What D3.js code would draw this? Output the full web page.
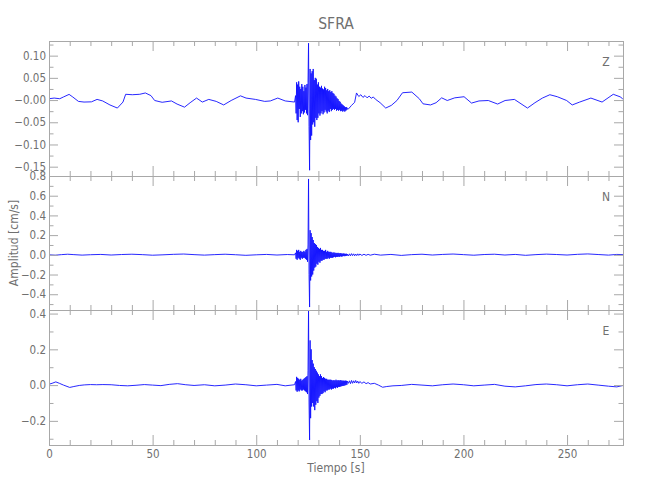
<!DOCTYPE html>
<html>
<head>
<meta charset="utf-8">
<script src="https://cdn.jsdelivr.net/npm/d3@7"></script>
<style>
  html, body { margin: 0; padding: 0; background: #ffffff; }
  svg { display: block; }
  text { font-family: "DejaVu Sans Condensed", "Liberation Sans Narrow", sans-serif; fill: #707070; }
</style>
</head>
<body>
<svg id="chart" width="650" height="500"></svg>
<script>
// ---------------- DATA ----------------
const title = "SFRA";
const xLabel = "Tiempo [s]";
const yLabel = "Amplitud [cm/s]";
const components = ["Z", "N", "E"];

const timeDomain = [0, 277];
const xTickValues = [0, 50, 100, 150, 200, 250];
const xTickLabels = ["0", "50", "100", "150", "200", "250"];

// y ranges per component
const zRange = [-0.171, 0.133];
const nRange = [-0.56, 0.80];
const eRange = [-0.335, 0.42];

const zTickValues = [-0.15, -0.10, -0.05, 0.0, 0.05, 0.10];
const zTickLabels = ["\u22120.15", "\u22120.10", "\u22120.05", "\u22120.00", "0.05", "0.10"];
const nTickValues = [-0.4, -0.2, 0.0, 0.2, 0.4, 0.6, 0.8];
const nTickLabels = ["\u22120.4", "\u22120.2", "0.0", "0.2", "0.4", "0.6", "0.8"];
const eTickValues = [-0.2, 0.0, 0.2, 0.4];
const eTickLabels = ["\u22120.2", "0.0", "0.2", "0.4"];
const zMinorStep = 0.025, nMinorStep = 0.1, eMinorStep = 0.1;

// burst sampling (strong motion window)
const burstStart = 119.0;
const burstStep = 0.25;

// Z component: quiet part (time, value)
const zQuietTimes = [0, 2.5, 5.2, 6.9, 9.7, 11.5, 14.2, 16.9, 20.5, 23.2, 25.9, 29.4, 33.0, 35.7, 37.0, 40.2, 43.8, 46.5, 49.2, 51.0, 54.6, 59.1, 61.8, 65.4, 68.1, 71.2, 74.0, 77.1, 80.7, 84.3, 87.9, 92.4, 95.1, 99.6, 104.1, 106.8, 110.4, 114.0, 118.5,
  144.5, 146.0, 147.5, 148.4, 149.5, 150.5, 151.5, 152.5, 153.5, 154.5, 155.5, 156.5, 157.5, 159.8, 162.5, 165.2, 167.9, 170.6, 175.1, 178.7, 180.5, 184.1, 186.8, 189.5, 192.2, 195.8, 200.3, 203.9, 207.5, 212.0, 216.5, 220.1, 224.6, 230.9, 234.5, 238.1, 241.7, 245.3, 249.8, 252.5, 256.1, 261.5, 266.9, 272.3, 275.9, 277.0];
const zQuietValues = [0.003, 0.0045, 0.003, 0.0068, 0.0128, 0.0068, -0.003, -0.0045, -0.004, 0.0015, -0.002, -0.011, -0.018, -0.0045, 0.013, 0.012, 0.013, 0.016, 0.010, -0.001, -0.005, -0.002, -0.009, -0.016, -0.006, 0.0045, -0.0045, 0.0015, -0.003, -0.011, -0.001, 0.0095, 0.0045, 0.0015, -0.003, -0.002, 0.0045, -0.002, -0.0045,
  -0.020, -0.012, -0.005, 0.016, 0.008, 0.012, 0.006, 0.010, 0.005, 0.009, 0.004, 0.007, 0.002, -0.006, -0.018, -0.012, -0.001, 0.0165, 0.018, 0.003, -0.0085, -0.011, -0.006, 0.005, -0.001, 0.005, 0.0075, -0.0068, -0.002, -0.001, -0.009, -0.001, 0.0015, -0.018, -0.006, 0.0045, 0.012, 0.0075, -0.001, -0.011, -0.0045, 0.0045, -0.0045, 0.013, 0.0068, 0.0015];
const zBurst = [0.010, -0.030, 0.040, -0.045, 0.035, -0.050, 0.042, -0.020, 0.030, -0.038,
  0.025, -0.030, 0.036, -0.025, 0.030, -0.032, 0.020, -0.028, 0.034, -0.022,
  0.028, -0.030, 0.036, -0.034, 0.040, 0.128, -0.060, -0.158, 0.070, -0.090,
  0.060, -0.080, 0.065, -0.055, 0.070, -0.050, 0.045, -0.060, 0.050, -0.040,
  0.048, -0.045, 0.035, -0.040, 0.040, -0.030, 0.030, -0.035, 0.028, -0.030,
  0.032, -0.025, 0.026, -0.032, 0.024, -0.028, 0.030, -0.022, 0.027, -0.026,
  0.022, -0.030, 0.025, -0.024, 0.020, -0.027, 0.022, -0.020, 0.018, -0.025,
  0.020, -0.022, 0.016, -0.020, 0.014, -0.022, 0.010, -0.020, 0.008, -0.024,
  0.004, -0.022, 0.002, -0.024, -0.002, -0.022, -0.004, -0.025, -0.008, -0.024,
  -0.010, -0.026, -0.012, -0.024, -0.014, -0.026, -0.016, -0.024, -0.016, -0.022,
  -0.018];

// N component
const nQuietTimes = [0, 3, 6, 9, 12, 16, 20, 25, 30, 35, 40, 45, 50, 55, 60, 65, 70, 75, 80, 85, 90, 95, 100, 105, 110, 115, 118.5,
  144.5, 145, 145.5, 146, 146.5, 147, 147.5, 148, 148.5, 149, 149.5, 150, 151, 152, 153, 154, 155, 157, 160, 165, 170, 175, 180, 185, 190, 195, 200, 205, 210, 215, 220, 225, 230, 235, 240, 245, 250, 255, 260, 265, 270, 274, 277];
const nQuietValues = [0.000, -0.004, 0.002, 0.006, 0.002, -0.003, 0.001, 0.004, -0.002, 0.003, 0.006, 0.002, -0.004, 0.000, 0.005, 0.008, 0.002, -0.003, 0.002, 0.006, 0.001, -0.005, 0.000, 0.004, -0.002, 0.003, 0.000,
  -0.012, 0.010, -0.010, 0.012, -0.008, 0.010, -0.010, 0.008, -0.008, 0.010, -0.006, 0.008, -0.006, 0.006, -0.005, 0.005, -0.004, 0.006, -0.003, 0.004, -0.006, 0.002, 0.006, -0.002, 0.004, 0.008, 0.002, -0.004, 0.003, 0.006, -0.002, 0.004, -0.005, 0.002, 0.007, 0.003, -0.002, 0.005, 0.009, 0.003, -0.003, 0.004, 0.002];
const nBurst = [0.02, -0.04, 0.05, -0.05, 0.04, -0.03, 0.05, -0.04, 0.03, -0.05,
  0.04, -0.03, 0.03, -0.04, 0.03, -0.03, 0.04, -0.03, 0.03, -0.04,
  0.05, -0.05, 0.06, -0.07, 0.10, 0.77, -0.20, -0.53, 0.25, -0.26,
  0.22, -0.22, 0.18, -0.20, 0.15, -0.16, 0.12, -0.13, 0.11, -0.12,
  0.10, -0.09, 0.08, -0.10, 0.07, -0.07, 0.06, -0.08, 0.07, -0.06,
  0.05, -0.06, 0.05, -0.05, 0.04, -0.05, 0.04, -0.04, 0.05, -0.04,
  0.03, -0.04, 0.04, -0.03, 0.03, -0.04, 0.03, -0.03, 0.03, -0.03,
  0.025, -0.03, 0.02, -0.025, 0.025, -0.02, 0.02, -0.025, 0.02, -0.02,
  0.018, -0.02, 0.02, -0.018, 0.015, -0.02, 0.018, -0.015, 0.015, -0.018,
  0.012, -0.015, 0.014, -0.012, 0.012, -0.014, 0.010, -0.012, 0.011, -0.010,
  0.008];

// E component
const eQuietTimes = [0, 1.5, 3.3, 5, 7, 10, 12, 14.6, 17, 20, 23, 26, 30, 34, 38, 42, 46, 50, 54, 58, 62, 66, 70, 75, 80, 85, 90, 95, 100, 105, 110, 114, 118.5,
  144.5, 145, 145.5, 146, 146.5, 147, 147.5, 148, 148.5, 149, 149.5, 150, 151, 152, 153, 154, 155, 157, 159, 161, 163, 166, 170, 175, 180, 185, 190, 195, 200, 205, 210, 215, 220, 225, 230, 235, 240, 245, 250, 255, 260, 265, 270, 274, 277];
const eQuietValues = [0.005, 0.010, 0.018, 0.010, 0.000, -0.013, -0.008, -0.002, 0.001, 0.003, 0.002, 0.003, 0.002, -0.002, -0.004, -0.001, 0.003, 0.000, -0.003, 0.004, 0.008, 0.002, -0.002, 0.002, -0.004, 0.000, 0.006, 0.002, -0.004, 0.000, 0.004, -0.004, 0.002,
  0.010, 0.024, 0.008, 0.026, 0.010, 0.024, 0.012, 0.026, 0.012, 0.022, 0.010, 0.020, 0.010, 0.018, 0.008, 0.014, 0.006, 0.010, 0.000, -0.012, -0.008, -0.004, -0.002, 0.004, 0.000, -0.004, 0.002, 0.006, 0.002, -0.004, 0.000, 0.004, -0.006, -0.010, -0.004, 0.003, 0.006, 0.002, -0.004, 0.002, 0.006, 0.000, -0.006, -0.010, -0.002];
const eBurst = [0.02, -0.03, 0.046, -0.037, 0.040, -0.030, 0.035, -0.035, 0.030, -0.025,
  0.035, -0.030, 0.025, -0.030, 0.030, -0.025, 0.035, -0.030, 0.040, -0.035,
  0.045, -0.040, 0.050, -0.050, 0.080, 0.42, -0.10, -0.307, 0.25, -0.185,
  0.20, -0.12, 0.14, -0.10, 0.12, -0.12, 0.10, -0.14, 0.09, -0.11,
  0.08, -0.09, 0.07, -0.10, 0.06, -0.07, 0.05, -0.06, 0.06, -0.05,
  0.05, -0.05, 0.04, -0.045, 0.045, -0.035, 0.04, -0.04, 0.035, -0.03,
  0.035, -0.03, 0.03, -0.025, 0.03, -0.025, 0.03, -0.02, 0.03, -0.025,
  0.028, -0.02, 0.025, -0.02, 0.028, -0.015, 0.025, -0.018, 0.03, -0.012,
  0.025, -0.015, 0.028, -0.01, 0.025, -0.01, 0.028, -0.008, 0.026, -0.006,
  0.025, -0.005, 0.025, -0.004, 0.024, -0.002, 0.025, 0.000, 0.024, 0.002,
  0.022];

// ---------------- DRAW ----------------
function buildSeries(qt, qv, burst) {
  const pts = qt.map((t, i) => ({ t: t, v: qv[i] }));
  burst.forEach((v, i) => pts.push({ t: burstStart + i * burstStep, v: v }));
  pts.sort((a, b) => a.t - b.t);
  return pts;
}

const panels = [
  { name: "Z", series: buildSeries(zQuietTimes, zQuietValues, zBurst), range: zRange, ticks: zTickValues, labels: zTickLabels, minor: zMinorStep },
  { name: "N", series: buildSeries(nQuietTimes, nQuietValues, nBurst), range: nRange, ticks: nTickValues, labels: nTickLabels, minor: nMinorStep },
  { name: "E", series: buildSeries(eQuietTimes, eQuietValues, eBurst), range: eRange, ticks: eTickValues, labels: eTickLabels, minor: eMinorStep }
];

const svg = d3.select("#chart");
const left = 49, right = 623;
const tops = [41, 176, 310];
const bottoms = [176, 310, 445];
const axisColor = "#a8a8a8";
const textColor = "#777777";
const fontFam = '"DejaVu Sans Condensed", "Liberation Sans Narrow", sans-serif';

const x = d3.scaleLinear().domain(timeDomain).range([left, right]);
const xMinor = d3.range(0, timeDomain[1] + 0.001, 10).filter(v => xTickValues.indexOf(v) < 0);

svg.append("text")
  .attr("x", 336).attr("y", 29)
  .attr("text-anchor", "middle")
  .style("font-size", "15.5px")
  .text(title);

panels.forEach((p, i) => {
  const y = d3.scaleLinear().domain(p.range).range([bottoms[i], tops[i]]);
  const g = svg.append("g");

  // trace
  const clipId = "clip" + i;
  svg.append("clipPath").attr("id", clipId)
    .append("rect").attr("x", left).attr("y", tops[i]).attr("width", right - left).attr("height", bottoms[i] - tops[i]);
  const line = d3.line().x(d => x(d.t)).y(d => y(d.v));
  g.append("path")
    .datum(p.series)
    .attr("clip-path", "url(#" + clipId + ")")
    .attr("fill", "none")
    .attr("stroke", "#1010ff")
    .attr("stroke-width", 0.9)
    .attr("d", line);

  // y minor ticks
  const yMinor = d3.range(Math.ceil(p.range[0] / p.minor - 1e-9) * p.minor, p.range[1] + 1e-9, p.minor)
    .map(v => Math.round(v / p.minor) * p.minor)
    .filter(v => !p.ticks.some(t => Math.abs(t - v) < 1e-6));

  const yAxisL = d3.axisLeft(y).tickValues(p.ticks).tickSize(-9).tickPadding(3)
    .tickFormat((d, k) => p.labels[k]);
  const yAxisLMinor = d3.axisLeft(y).tickValues(yMinor).tickSize(-4.5).tickFormat("");
  const yAxisR = d3.axisRight(y).tickValues(p.ticks).tickSize(-9).tickFormat("");
  const yAxisRMinor = d3.axisRight(y).tickValues(yMinor).tickSize(-4.5).tickFormat("");

  const xAxisT = d3.axisTop(x).tickValues(xTickValues).tickSize(-10).tickFormat("");
  const xAxisTMinor = d3.axisTop(x).tickValues(xMinor).tickSize(-5).tickFormat("");
  const xAxisB = d3.axisBottom(x).tickValues(xTickValues).tickSize(-10).tickPadding(5)
    .tickFormat((d, k) => (i === 2 ? xTickLabels[k] : ""));
  const xAxisBMinor = d3.axisBottom(x).tickValues(xMinor).tickSize(-5).tickFormat("");

  const addAxis = (axis, tx, ty) => {
    const a = g.append("g").attr("transform", `translate(${tx},${ty})`).call(axis);
    a.selectAll("path.domain").attr("stroke", axisColor);
    a.selectAll("line").attr("stroke", axisColor);
    a.selectAll("text").style("font-size", "11.5px").attr("fill", textColor)
      .style("font-family", fontFam);
    return a;
  };
  addAxis(yAxisL, left, 0);
  addAxis(yAxisLMinor, left, 0);
  addAxis(yAxisR, right, 0);
  addAxis(yAxisRMinor, right, 0);
  addAxis(xAxisT, 0, tops[i]);
  addAxis(xAxisTMinor, 0, tops[i]);
  addAxis(xAxisB, 0, bottoms[i]);
  addAxis(xAxisBMinor, 0, bottoms[i]);

  // component label
  g.append("text")
    .attr("x", 606).attr("y", tops[i] + 25)
    .attr("text-anchor", "middle")
    .style("font-size", "12px")
    .text(p.name);
});

svg.append("text")
  .attr("x", 336).attr("y", 472)
  .attr("text-anchor", "middle")
  .style("font-size", "12px")
  .text(xLabel);

svg.append("text")
  .attr("transform", "translate(18,243) rotate(-90)")
  .attr("text-anchor", "middle")
  .style("font-size", "12px")
  .text(yLabel);
</script>
</body>
</html>
